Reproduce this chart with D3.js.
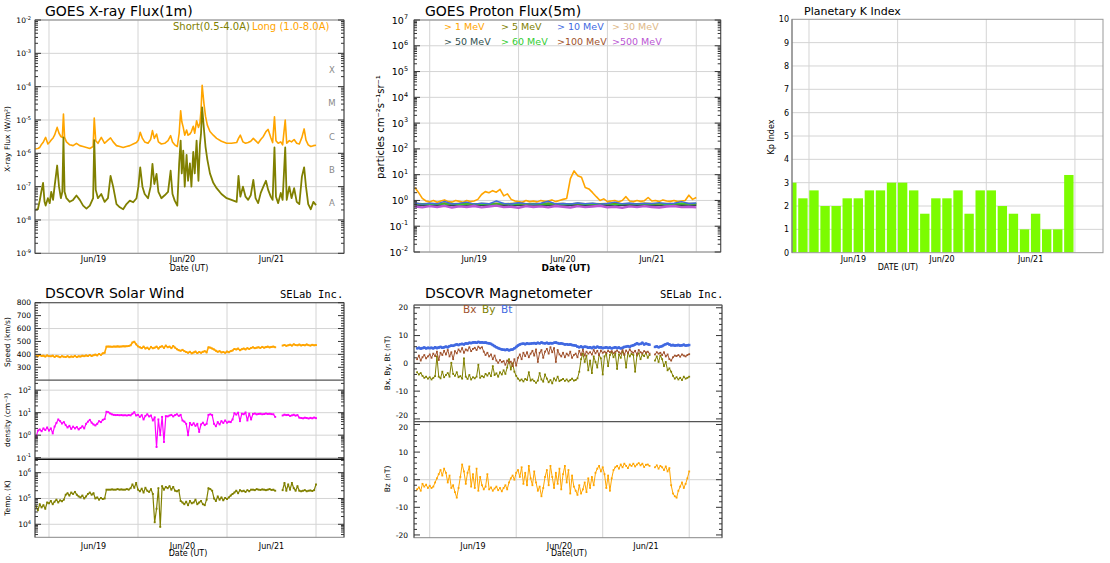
<!DOCTYPE html>
<html><head><meta charset="utf-8">
<script src="https://cdn.jsdelivr.net/npm/d3@7"></script>
<style>body{margin:0;background:#fff} svg{display:block;font-family:"DejaVu Sans",sans-serif}</style>
</head><body><svg id="chart" width="1110" height="563"></svg>
<script>
// ---------- DATA (hours relative to Jun 19 00:00 UT) ----------
const dayLabels = ["Jun/19","Jun/20","Jun/21"];
const dayLabelHours = [12,36,60];
const dayGridHours = [0,24,48,72];

const xrayHours = [-3.9,-3.0,-2.5,-2.1,-1.6,-1.2,-0.9,-0.3,0.2,0.6,1.1,1.5,2.2,2.7,3.2,3.6,3.9,4.2,4.7,5.6,6.5,7.4,8.3,9.2,10.1,11.0,11.9,12.2,12.6,13.2,14.1,15.0,15.9,16.6,17.3,18.2,19.1,20.0,20.9,21.8,22.7,23.6,24.1,24.6,25.2,25.8,26.7,27.4,27.9,28.4,29.0,29.5,30.3,31.2,32.1,32.8,33.3,33.9,34.6,35.1,35.5,35.8,36.2,36.6,37.1,37.5,38.0,38.4,38.9,39.3,39.8,40.3,40.7,41.0,41.3,41.8,42.2,42.7,43.4,44.3,45.2,46.5,47.9,49.2,50.6,51.1,51.6,52.3,53.0,53.7,54.4,55.1,55.7,56.4,57.1,57.8,58.5,59.1,59.8,60.3,60.8,61.2,61.8,62.5,63.0,63.7,64.1,64.8,65.4,66.1,66.8,67.5,68.2,68.8,69.3,69.9,70.6,71.3,72.0];
const xrayLong = [1.35e-6,1.4e-6,1.5e-6,1.8e-6,2.1e-6,2.6e-6,3.0e-6,1.9e-6,2.2e-6,2.5e-6,2.9e-6,3.5e-6,6.0e-6,4.0e-6,3.2e-6,3.0e-6,1.5e-5,3.0e-6,2.2e-6,1.8e-6,1.7e-6,2.0e-6,1.7e-6,1.6e-6,1.5e-6,1.4e-6,1.6e-6,1.15e-5,2.4e-6,2.0e-6,3.0e-6,2.0e-6,2.5e-6,2.9e-6,2.2e-6,1.7e-6,1.6e-6,1.5e-6,1.6e-6,1.7e-6,1.9e-6,2.1e-6,2.5e-6,4.3e-6,2.8e-6,2.2e-6,2.0e-6,2.6e-6,4.8e-6,2.8e-6,3.8e-6,2.2e-6,1.9e-6,2.0e-6,2.4e-6,3.4e-6,2.2e-6,1.8e-6,1.6e-6,4.0e-6,1.9e-5,9e-6,6.0e-6,3.5e-6,5.0e-6,3.5e-6,3.8e-6,4.5e-6,6.5e-6,4.0e-6,9.5e-6,6.0e-6,8.0e-6,2.0e-5,1.1e-4,3.0e-5,1.3e-5,7.0e-6,4.5e-6,3.5e-6,2.8e-6,2.3e-6,2.0e-6,2.0e-6,2.1e-6,2.8e-6,3.5e-6,2.2e-6,2.0e-6,2.1e-6,2.3e-6,2.8e-6,2.4e-6,2.0e-6,2.6e-6,3.2e-6,4.5e-6,5.2e-6,3.0e-6,2.1e-6,1.25e-5,2.4e-6,2.0e-6,2.2e-6,1.8e-6,1.0e-5,2.0e-6,2.4e-6,2.2e-6,2.6e-6,2.0e-6,1.9e-6,3.0e-6,5.4e-6,2.5e-6,1.8e-6,1.6e-6,1.7e-6,1.75e-6];
const xrayShort = [2.0e-8,2.1e-8,3.8e-8,6.8e-8,1.3e-7,3.5e-8,2.7e-8,4.5e-8,3.2e-8,7e-8,4e-8,1e-7,4.3e-7,1.0e-7,4.5e-8,7e-8,3e-6,7e-8,4.5e-8,3.5e-8,4e-8,5.4e-8,4e-8,2.7e-8,2.2e-8,2.7e-8,4.5e-8,2.5e-6,8e-8,4.5e-8,6e-8,3.5e-8,4.5e-8,2.1e-7,1e-7,3e-8,2.4e-8,2.1e-8,3e-8,3.8e-8,3.4e-8,4.5e-8,1e-7,3.8e-7,1e-7,6e-8,4.5e-8,1e-7,4.8e-7,1.2e-7,2.4e-7,7e-8,4.5e-8,5.5e-8,7e-8,3e-7,6e-8,3.8e-8,2.7e-8,5e-7,2.4e-6,2.5e-7,1.2e-6,1e-7,9e-7,1.5e-7,5e-7,1e-7,1.1e-6,2.5e-7,2.4e-6,1.5e-7,1.8e-6,4e-6,2.4e-5,5e-6,1.6e-6,6.5e-7,2.5e-7,1.3e-7,9e-8,6e-8,4.5e-8,4e-8,3.5e-8,2.1e-7,5e-8,1e-7,5e-8,4e-8,5.5e-8,1.6e-7,4.5e-8,3.2e-8,6.5e-8,1e-7,1.5e-7,8e-8,5e-8,4e-8,1.5e-6,5e-8,3.2e-8,6.5e-8,4e-8,1.5e-6,4e-8,1e-7,4.5e-8,9e-8,3.5e-8,3e-8,2e-7,3.8e-7,1e-7,3e-8,2.1e-8,3.5e-8,2.8e-8];
const xrayClasses = ["X","M","C","B","A"];
const xrayClassLevels = [3.16e-4,3.16e-5,3.16e-6,3.16e-7,3.16e-8];

const protonStart = -4, protonStep = 1, protonStepFlat = 2;
const proton1 = [3.2,2.0,1.2,0.95, 0.88,1.0,0.85,0.95,1.05,0.9,0.86,1.0, 0.92,0.85,1.0,0.9,0.95,1.1,1.7,2.2, 2.0,2.4,2.1,2.7,1.5,1.8,1.1,0.95, 0.9,0.85,1.0,0.9,0.95,0.88,1.0,0.92, 0.95,1.05,0.9,1.0,1.1,1.2,7.0,14.0, 9.0,8.0,3.2,2.8,2.0,1.4,1.0,1.15, 0.9,0.95,1.0,0.88,1.0,1.4,0.95,0.9, 1.0,0.92,0.98,1.3,0.95,1.0,0.9,1.05, 0.95,0.92,1.0,0.9,0.95,1.0,1.6,1.1,1.3];
const proton5 = [0.78,0.74,0.77,0.75,0.8,0.74,0.76,0.78,0.73,0.77,0.75,0.79,0.74,0.76,0.78,0.75,0.77,0.74,0.8,0.75,0.76,0.73,0.78,0.75,0.77,0.74,0.76,0.79,0.75,0.77,0.74,0.78,0.76,0.75,0.77,0.74,0.79,0.76,0.77];
const proton30 = [0.71,0.69,0.72,0.7,0.71,0.68,0.72,0.7,0.69,0.71,0.7,0.72,0.69,0.71,0.7,0.68,0.72,0.7,0.71,0.69,0.72,0.7,0.71,0.69,0.7,0.72,0.69,0.71,0.7,0.72,0.69,0.71,0.7,0.68,0.72,0.7,0.71,0.69,0.7];
const proton50 = [0.66,0.64,0.67,0.65,0.66,0.63,0.67,0.65,0.64,0.66,0.65,0.67,0.64,0.66,0.65,0.63,0.67,0.65,0.66,0.64,0.67,0.65,0.66,0.64,0.65,0.67,0.64,0.66,0.65,0.67,0.64,0.66,0.65,0.63,0.67,0.65,0.66,0.64,0.65];
const proton100 = [0.68,0.66,0.69,0.67,0.68,0.66,0.69,0.67,0.66,0.68,0.67,0.69,0.66,0.68,0.67,0.66,0.69,0.67,0.68,0.66,0.69,0.67,0.68,0.66,0.67,0.69,0.66,0.68,0.67,0.69,0.66,0.68,0.67,0.66,0.69,0.67,0.68,0.66,0.67];
const proton60 = [0.72,0.75,0.7,0.74,0.71,0.76,0.7,0.73,0.75,0.71,0.74,0.72,0.76,0.7,0.73,0.75,0.71,0.74,0.72,0.75,0.7,0.73,0.76,0.71,0.74,0.72,0.75,0.7,0.73,0.76,0.71,0.74,0.72,0.75,0.7,0.73,0.76,0.72,0.74];
const proton10 = [0.8,0.72,0.78,0.74,0.92,0.73,0.77,0.86,0.72,0.79,0.74,0.95,0.76,0.73,0.81,0.75,0.72,0.78,0.93,0.74,0.76,0.73,0.8,0.74,0.79,0.72,0.76,0.86,0.74,0.78,0.73,0.77,0.75,0.82,0.74,0.78,0.9,0.76,0.8];
const proton500 = [0.58,0.54,0.6,0.55,0.62,0.53,0.59,0.56,0.61,0.54,0.58,0.63,0.55,0.57,0.52,0.6,0.56,0.59,0.54,0.61,0.57,0.53,0.6,0.55,0.58,0.62,0.54,0.57,0.52,0.59,0.55,0.6,0.56,0.53,0.58,0.61,0.55,0.57,0.54];
const protonLabels = ["> 1 MeV","> 5 MeV","> 10 MeV","> 30 MeV","> 50 MeV","> 60 MeV",">100 MeV",">500 MeV"];

const kpStart = -6, kpStep = 3;
const kpValues = [3.0,2.33,2.67,2.0,2.0,2.33,2.33,2.67,2.67,3.0,3.0,2.67,1.67,2.33,2.33,2.67,1.67,2.67,2.67,2.0,1.67,1.0,1.67,1.0,1.0,3.33];

const swStart = -3.5, swStep = 0.5;
const windSpeed = [392,385,395,388,390,383,392,386, 385,390,380,388,384,378,386,382, 380,386,378,384,381,388,379,385, 383,390,386,392,388,395,387,393, 398,392,403,396,408,412,460,461, 460,459,461,460,462,460,461,463, 462,463,465,470,492,498,478,462, 455,448,460,445,452,440,458,447, 452,460,445,458,463,450,468,455, 460,448,465,452,440,432,428,435, 425,418,412,420,408,415,422,410, 418,412,420,425,415,455,452,445, 438,428,420,425,415,418,412,422, 416,425,430,442,438,445,432,440, 445,438,448,442,450,455,448,452, 455,450,458,452,456,460,454,458, 460,455,null,null,null,468,472,466, 470,475,468,478,472,470,476,469, 473,470,477,471,468,474,470,472];
const windDensity = [0.8,1.6,1.8,1.5,2.0,1.7,2.2,1.6, 2.0,1.2,2.4,3.5,5.0,4.2,3.3,3.8, 2.8,2.2,2.6,1.9,2.4,2.0,2.3,1.8, 2.1,2.5,2.0,3.2,4.0,4.8,3.6,3.0, 2.7,3.2,4.2,3.8,4.8,5.2,11,10.5, 9.2,8.4,8.0,7.8,7.9,7.7,7.8,7.6, 7.7,7.5,7.8,7.6,9.0,10.5,7.5,8.0, 6.5,7.8,5.0,7.2,8.5,6.8,7.5,4.5, 6.2,0.3,5.0,1.0,6.5,0.5,7.0,6.8, 7.5,8.0,6.8,7.8,8.5,7.2,8.0,4.5, 4.0,3.2,1.0,3.5,2.8,3.4,2.6,3.2, 1.4,3.0,3.6,2.8,3.2,8.0,8.5,7.8, 3.2,2.5,3.8,3.0,4.2,3.5,4.5,3.6, 4.0,3.8,5.0,9.5,8.2,10.0,4.2,9.0, 8.5,10.2,4.5,9.0,5.0,8.8,9.2,8.4, 8.8,9.0,8.5,8.7,9.2,8.8,9.0,8.6, 8.5,6.5,null,null,null,7.5,8.2,7.8, 8.0,7.2,7.6,8.1,7.4,7.8,6.0,5.8, 5.6,6.0,5.8,5.5,5.9,5.6,6.1,5.7];
const windTemp = [5e4,3.5e4,6e4,4.5e4,5.5e4,4e4,7e4,6.5e4, 8e4,6e4,7.5e4,9e4,7e4,8.5e4,7.8e4,9e4, 1.4e5,1.6e5,1.3e5,1.7e5,1.5e5,1.8e5,1.4e5,1.2e5, 1.1e5,1.3e5,1e5,1.2e5,1.5e5,1.7e5,1.4e5,1.6e5, 1e5,1.1e5,9e4,1.05e5,9.5e4,1e5,2.2e5,2.2e5, 2.2e5,2.25e5,2.2e5,2.2e5,2.3e5,2.2e5,2.25e5,2.2e5, 2.2e5,2.3e5,2.2e5,2.5e5,3.5e5,2.6e5,4e5,2.2e5, 1.9e5,2.4e5,1.7e5,2.6e5,2e5,1.8e5,2.3e5,1.5e5, 1.2e4,4e4,2.5e5,8e3,3e5,2.2e5,2.8e5,2.5e5, 3e5,2.2e5,2.8e5,2e5,1.9e5,2.1e5,8e4,7e4, 6e4,7.5e4,5.5e4,8e4,6.5e4,7e4,9e4,6e4, 7e4,8e4,6e4,5.5e4,9e4,2.5e5,2.3e5,2e5, 1e5,8e4,1.2e5,9e4,1.1e5,8.5e4,1.05e5,9.5e4, 1.1e5,1.3e5,1.5e5,1.7e5,2e5,1.6e5,2.1e5,1.9e5, 2e5,1.8e5,2.1e5,1.9e5,2.2e5,2.2e5,2.1e5,2.3e5, 2.2e5,2.15e5,2.25e5,2.2e5,2.1e5,2.2e5,2.3e5,2.15e5, 2.2e5,2e5,null,null,null,2.1e5,4e5,2e5, 3.5e5,2.2e5,4e5,2.5e5,2e5,3e5,2e5,1.9e5, 2e5,2.1e5,1.9e5,2e5,2.05e5,1.95e5,2.1e5,3.5e5];

const magBt = [5.4,5.6,5.3,5.5,5.7,5.4,5.6,5.5, 5.6,5.4,5.8,5.5,5.7,5.9,5.6,5.8, 6.0,5.8,6.2,6.4,6.3,6.6,6.8,6.6, 6.9,7.0,6.8,7.2,7.1,7.4,7.3,7.5, 7.6,7.4,7.7,7.5,7.6,7.4,7.5,7.3, 7.2,7.0,6.6,6.2,5.8,5.5,5.2,5.0, 4.9,4.8,5.0,4.7,4.9,5.0,5.4,5.9, 6.4,6.8,7.0,7.1,6.9,7.2,7.0,7.1, 7.2,7.3,7.1,7.4,7.2,7.5,7.3,7.2, 7.4,7.1,7.3,7.2,7.4,7.5,7.3,7.1, 7.2,7.0,6.8,6.9,6.7,6.8,6.6,6.5, 6.4,6.0,5.8,6.1,5.7,6.0,5.9,5.6, 5.8,5.5,5.9,5.6,6.0,5.7,5.8,5.5, 5.6,5.8,5.5,5.7,5.4,5.6,5.8,5.5, 5.7,5.4,5.6,5.9,6.0,6.2,5.9,6.3, 6.5,6.8,7.2,6.9,7.0,7.4,6.8,7.1, 6.9,6.7,null,null,5.9,6.1,5.8,6.0, 6.2,6.6,6.9,7.1,6.8,6.5,6.6,6.4, 6.5,6.6,6.4,6.5,6.7,6.4,6.5,6.6];
const magBx = [1.5,2.8,1.0,2.2,3.0,1.8,2.5,3.2, 2.0,3.5,2.6,4.2,1.2,3.8,3.0,4.5, 3.2,4.8,2.5,4.0,1.5,4.4,3.6,5.0, 4.2,5.5,3.8,5.0,4.6,5.8,4.4,5.2, 5.6,4.8,6.0,5.4,5.8,4.2,3.0,3.8, 2.5,3.2,1.5,2.8,1.0,0.2,1.2,0.5, 0.8,-0.5,1.0,0.2,0.6,-1.0,1.5,-0.8, 2.0,3.2,1.5,3.8,2.6,4.0,2.2,3.5, 4.5,2.8,5.0,0.5,3.8,4.8,2.0,4.2, 5.2,3.5,5.8,4.0,5.5,0.5,4.8,3.2, 2.5,3.8,2.2,3.5,2.8,4.2,2.0,3.0, 3.5,2.2,4.5,3.0,5.0,2.8,4.2,3.5, 4.0,3.2,4.8,3.6,4.5,3.0,4.6,3.8, 4.2,3.8,4.5,4.0,4.4,3.6,4.2,4.6, 4.0,3.5,4.8,3.2,4.6,3.8,5.0,4.2, 3.8,4.5,3.2,4.8,4.0,3.6,4.4,3.9, 4.2,3.5,null,null,3.2,4.0,3.5,3.8, 3.0,4.0,2.5,3.2,1.5,1.0,2.2,2.8, 2.6,3.0,2.4,3.2,2.8,2.5,3.0,3.3];
const magBy = [-3.2,-4.0,-3.5,-4.5,-5.2,-4.8,-5.5,-5.0, -5.8,-5.2,-4.6,2.5,-4.8,-5.4,-3.0,-5.0, -4.2,-3.5,-4.8,0.2,-3.8,-4.5,-3.2,-5.0, -4.6,-5.5,1.8,-4.8,-5.6,-4.2,-5.8,-5.0, -5.4,-4.8,-0.5,-5.2,-4.6,-5.0,-3.8,-4.4, -3.5,-4.6,-1.0,-4.2,-3.6,-4.8,-3.2,-4.0, -2.5,-3.8,-1.5,1.5,-2.2,0.0,-3.0,-4.5, -5.5,-6.2,-5.8,-6.5,-5.6,-6.0,-3.2,-6.2, -5.8,-6.4,-7.0,-6.2,-3.5,-5.8,-6.6,-4.0, -5.5,-6.8,-6.0,-7.2,-5.4,-6.2,-4.8,-6.4, -6.0,-5.6,-6.3,-5.8,-6.5,-6.0,-5.5,-6.2, -6.0,-5.4,-3.0,1.5,3.5,0.5,2.8,-2.5, 1.0,-3.5,2.5,0.5,-1.5,3.0,1.8,-4.0, 2.5,3.5,-1.0,3.0,4.0,2.2,3.6,-2.0, 3.2,2.0,4.2,3.0,-1.5,3.8,2.5,3.4, 3.0,-3.0,2.8,3.6,1.5,3.2,2.6,3.8, 2.0,3.0,null,null,1.0,2.5,0.5,2.8, 1.5,-1.0,0.5,-2.5,-1.8,-3.0,-4.5,-5.5, -5.0,-5.8,-5.2,-6.0,-4.8,-5.5,-5.2,-4.8];
const magBz = [-3.5,-2.8,-4.0,-1.5,-2.5,-1.8,-3.0,-2.2, -3.0,-2.5,-1.0,0.5,2.0,3.5,1.5,4.0, 2.5,-1.0,1.5,-3.0,-2.0,-4.5,-6.5,-3.0, 1.0,5.5,3.0,-1.5,2.5,4.8,-2.5,2.0, -3.0,4.0,-4.0,1.0,-2.0,-3.5,-2.5,2.0, -3.5,-2.8,-4.0,-3.2,-2.5,-3.8,-3.0,-4.2, -3.0,-2.0,-3.5,-1.0,0.5,1.5,0.0,2.5, 3.5,1.0,4.5,-1.5,2.5,-2.0,5.0,0.5, -2.0,3.0,-1.0,-4.0,-2.5,-6.0,-3.0,1.0, 3.5,-2.0,5.0,1.0,-3.0,2.5,-1.5,4.0, -3.5,2.0,5.0,-1.0,3.5,-5.0,1.5,-2.5, -4.0,-5.5,-2.0,-5.0,-3.5,-1.0,-4.5,0.5, -3.0,1.0,-2.0,2.5,4.0,5.0,3.0,4.5, 2.0,-3.0,1.5,-4.0,0.5,3.5,4.5,5.0, 4.0,5.5,4.5,5.8,5.0,4.2,5.5,5.0, 5.8,4.8,5.5,6.0,5.2,5.8,4.6,5.4, 5.5,5.0,null,null,4.5,5.2,4.0,5.0, 4.5,3.5,4.8,3.0,4.2,-2.0,-5.0,-6.0, -6.5,-4.0,-2.5,-1.0,-3.0,-1.5,0.5,3.0];

// ---------- HELPERS ----------
const svg = d3.select("#chart");
const defs = svg.append("defs");
const GRID = "#d4d4d4", FRAME = "#555", TICK = "#333";

function clip(id, x0, y0, x1, y1) {
  defs.append("clipPath").attr("id", id).append("rect")
    .attr("x", x0).attr("y", y0).attr("width", x1 - x0).attr("height", y1 - y0);
}
function txt(g, x, y, s, size, o = {}) {
  const t = g.append("text").attr("x", x).attr("y", y).attr("font-size", size).text(s);
  if (o.anchor) t.attr("text-anchor", o.anchor);
  if (o.fill) t.attr("fill", o.fill);
  if (o.weight) t.attr("font-weight", o.weight);
  if (o.family) t.attr("font-family", o.family);
  return t;
}
function vtxt(g, x, y, s, size) {
  return g.append("text").attr("transform", `translate(${x},${y}) rotate(-90)`)
    .attr("text-anchor", "middle").attr("font-size", size).text(s);
}
function powLabel(g, x, y, exp, size) {
  const t = g.append("text").attr("x", x).attr("y", y).attr("text-anchor", "end").attr("font-size", size);
  t.append("tspan").text("10");
  t.append("tspan").attr("dy", -size * 0.45).attr("font-size", size * 0.68).text(exp);
}
function hline(g, x0, x1, y, color, w = 1) {
  g.append("line").attr("x1", x0).attr("x2", x1).attr("y1", y).attr("y2", y).attr("stroke", color).attr("stroke-width", w);
}
function vline(g, x, y0, y1, color, w = 1) {
  g.append("line").attr("x1", x).attr("x2", x).attr("y1", y0).attr("y2", y1).attr("stroke", color).attr("stroke-width", w);
}
function dayGrid(g, x, y0, y1) { dayGridHours.forEach(h => vline(g, x(h), y0, y1, GRID)); }
function ticksLR(g, y, vals, x0, x1, len) {
  vals.forEach(v => { const yy = y(v); hline(g, x0, x0 + len, yy, TICK); hline(g, x1 - len, x1, yy, TICK); });
}
function logVals(y, mult) {
  const [a, b] = y.domain(); const out = [];
  for (let d = Math.floor(Math.log10(a)); d <= Math.ceil(Math.log10(b)); d++)
    mult.forEach(m => { const v = m * Math.pow(10, d); if (v >= a * 0.999 && v <= b * 1.001) out.push(v); });
  return out;
}
function logTicks(g, y, x0, x1) {
  ticksLR(g, y, logVals(y, [1]), x0, x1, 6);
  ticksLR(g, y, logVals(y, [2, 3, 4, 5, 6, 7, 8, 9]), x0, x1, 3);
}
function series(start, step, vals) { return vals.map((v, i) => [start + i * step, v]); }
function drawLine(g, x, y, pts, color, w) {
  g.append("path").datum(pts).attr("fill", "none").attr("stroke", color).attr("stroke-width", w)
    .attr("stroke-linejoin", "round")
    .attr("d", d3.line().defined(d => d[1] != null).x(d => x(d[0])).y(d => y(d[1])));
}
function drawDots(g, x, y, pts, color, s = 1.9, lw = 1) {
  drawLine(g, x, y, pts, color, lw);
  g.selectAll(null).data(pts.filter(d => d[1] != null)).join("rect")
    .attr("x", d => x(d[0]) - s / 2).attr("y", d => y(d[1]) - s / 2)
    .attr("width", s).attr("height", s).attr("fill", color);
}
function dateAxis(g, x, yLab, title, tx, ty, tsize, tweight) {
  dayLabels.forEach((l, i) => txt(g, x(dayLabelHours[i]), yLab, l, 8, { anchor: "middle" }));
  txt(g, tx, ty, title, tsize, { anchor: "middle", weight: tweight });
}

// ---------- PANEL 1 : GOES X-ray ----------
{
  const g = svg.append("g");
  const L = 35, R = 344, T = 20, B = 253.3;
  const x = d3.scaleLinear().domain([-3.775, 79.55]).range([L, R]);
  const y = d3.scaleLog().domain([1e-9, 1e-2]).range([B, T]);
  clip("cx", L, T, R, B);
  logVals(y, [1]).forEach(v => hline(g, L, R, y(v), GRID));
  dayGrid(g, x, T, B);
  const dg = g.append("g").attr("clip-path", "url(#cx)");
  drawLine(dg, x, y, xrayHours.map((h, i) => [h, xrayLong[i]]), "#FFA500", 1.6);
  drawLine(dg, x, y, xrayHours.map((h, i) => [h, xrayShort[i]]), "#808000", 1.8);
  g.append("rect").attr("x", L).attr("y", T).attr("width", R - L).attr("height", B - T).attr("fill", "none").attr("stroke", "#888");
  vline(g, L, T, B, FRAME); vline(g, R, T, B, FRAME);
  logTicks(g, y, L, R);
  logVals(y, [1]).forEach(v => powLabel(g, 31, y(v) + 3, String(Math.round(Math.log10(v))), 7.5));
  xrayClasses.forEach((c, i) => txt(g, 332, y(xrayClassLevels[i]) + 3, c, 8.5, { anchor: "middle", fill: "#888" }));
  txt(g, 45, 16, "GOES X-ray Flux(1m)", 14);
  txt(g, 173, 30, "Short(0.5-4.0A)", 10, { fill: "#808000" });
  txt(g, 252, 30, "Long (1.0-8.0A)", 10, { fill: "#FFA500" });
  vtxt(g, 10, 139, "X-ray Flux (W/m²)", 7.5);
  dateAxis(g, x, 262, "Date (UT)", 189, 270.5, 8);
}

// ---------- PANEL 2 : GOES Proton ----------
{
  const g = svg.append("g");
  const L = 414, R = 720.7, T = 20, B = 252;
  const x = d3.scaleLinear().domain([-4.245, 78.6]).range([L, R]);
  const y = d3.scaleLog().domain([1e-2, 1e7]).range([B, T]);
  clip("cp", L, T, R, B);
  logVals(y, [1]).forEach(v => hline(g, L, R, y(v), GRID));
  dayGrid(g, x, T, B);
  const dg = g.append("g").attr("clip-path", "url(#cp)");
  const flat = [[proton30, "#DEB887"], [proton5, "#808000"], [proton100, "#A0522D"], [proton50, "#2F4F4F"], [proton60, "#32CD32"], [proton10, "#4169E1"]];
  drawLine(dg, x, y, series(protonStart, protonStep, proton1), "#FFA500", 1.6);
  flat.forEach(([vals, c]) => drawLine(dg, x, y, series(protonStart, protonStepFlat, vals), c, 1.4));
  drawLine(dg, x, y, series(protonStart, protonStepFlat, proton500), "#BA55D3", 2.4);
  g.append("rect").attr("x", L).attr("y", T).attr("width", R - L).attr("height", B - T).attr("fill", "none").attr("stroke", "#888");
  vline(g, L, T, B, FRAME); vline(g, R, T, B, FRAME);
  logTicks(g, y, L, R);
  logVals(y, [1]).forEach(v => powLabel(g, 408, y(v) + 3.5, String(Math.round(Math.log10(v))), 9.5));
  txt(g, 425, 16, "GOES Proton Flux(5m)", 14);
  const legCols = ["#FFA500", "#808000", "#4169E1", "#DEB887", "#2F4F4F", "#32CD32", "#A0522D", "#BA55D3"];
  const legX = [444, 501, 557, 612];
  protonLabels.forEach((l, i) => txt(g, legX[i % 4], i < 4 ? 29.5 : 44.5, l, 9.5, { fill: legCols[i] }));
  vtxt(g, 384, 127, "particles cm⁻²s⁻¹sr⁻¹", 10);
  dateAxis(g, x, 262, "Date (UT)", 566, 271, 9, "bold");
}

// ---------- PANEL 3 : Kp ----------
{
  const g = svg.append("g");
  const L = 792, R = 1103, T = 19.3, B = 252.7;
  const x = d3.scaleLinear().domain([-4.6, 79.6]).range([L, R]);
  const y = d3.scaleLinear().domain([0, 10]).range([B, T]);
  clip("ck", L, T, R, B);
  d3.range(1, 10).forEach(v => hline(g, L, R, y(v), GRID));
  dayGrid(g, x, T, B);
  const dg = g.append("g").attr("clip-path", "url(#ck)");
  dg.selectAll(null).data(kpValues).join("rect")
    .attr("x", (d, i) => x(kpStart + i * kpStep) + 0.3)
    .attr("width", (d, i) => x(kpStart + (i + 1) * kpStep) - x(kpStart + i * kpStep) - 1.7)
    .attr("y", d => y(d)).attr("height", d => y(0) - y(d)).attr("fill", "#7CFC00");
  g.append("rect").attr("x", L).attr("y", T).attr("width", R - L).attr("height", B - T).attr("fill", "none").attr("stroke", "#999");
  vline(g, L, T, B, "#777");
  d3.range(0, 11).forEach(v => txt(g, 789, y(v) + 3, String(v), 8, { anchor: "end" }));
  txt(g, 804, 15, "Planetary K Index", 11);
  vtxt(g, 774, 137, "Kp Index", 8);
  dateAxis(g, x, 261.5, "DATE (UT)", 898, 270, 8);
}

// ---------- PANEL 4 : DSCOVR Solar Wind ----------
{
  const g = svg.append("g");
  const L = 35, R = 344, T = 302.7, M1 = 380.2, M2 = 459.3, B = 537.3;
  const x = d3.scaleLinear().domain([-3.775, 79.55]).range([L, R]);
  const yS = d3.scaleLinear().domain([200, 800]).range([M1, T]);
  const yD = d3.scaleLog().domain([0.0849, 277]).range([M2, M1]);
  const yT = d3.scaleLog().domain([3130, 3.3e6]).range([B, M2]);
  clip("cs1", L, T, R, M1); clip("cs2", L, M1, R, M2); clip("cs3", L, M2, R, B);
  [400, 600].forEach(v => hline(g, L, R, yS(v), GRID));
  logVals(yD, [1]).forEach(v => hline(g, L, R, yD(v), GRID));
  logVals(yT, [1]).forEach(v => hline(g, L, R, yT(v), GRID));
  dayGrid(g, x, T, B);
  drawDots(g.append("g").attr("clip-path", "url(#cs1)"), x, yS, series(swStart, swStep, windSpeed), "#FFA500", 1.9, 1.6);
  drawDots(g.append("g").attr("clip-path", "url(#cs2)"), x, yD, series(swStart, swStep, windDensity), "#FF00FF", 1.9, 1.2);
  drawDots(g.append("g").attr("clip-path", "url(#cs3)"), x, yT, series(swStart, swStep, windTemp), "#808000", 1.9, 1.2);
  g.append("rect").attr("x", L).attr("y", T).attr("width", R - L).attr("height", B - T).attr("fill", "none").attr("stroke", "#888");
  vline(g, L, T, B, FRAME); vline(g, R, T, B, FRAME); hline(g, L, R, T, FRAME);
  hline(g, L, R, M1, "#555", 1.2); hline(g, L, R, M2, "#111", 1.6);
  ticksLR(g, yS, d3.range(300, 801, 100), L, R, 6);
  ticksLR(g, yS, d3.range(220, 800, 20).filter(v => v % 100 !== 0), L, R, 3);
  logTicks(g, yD, L, R); logTicks(g, yT, L, R);
  d3.range(300, 801, 100).forEach(v => txt(g, 31, yS(v) + 2.7, String(v), 7.5, { anchor: "end" }));
  logVals(yD, [1]).forEach(v => powLabel(g, 31, yD(v) + 3, String(Math.round(Math.log10(v))), 7.5));
  logVals(yT, [1]).forEach(v => powLabel(g, 31, yT(v) + 3, String(Math.round(Math.log10(v))), 7.5));
  txt(g, 45, 298, "DSCOVR Solar Wind", 14);
  txt(g, 280, 298, "SELab Inc.", 10.5, { family: "DejaVu Sans Mono" });
  vtxt(g, 10, 342, "Speed (km/s)", 7.5);
  vtxt(g, 10, 420, "density (cm⁻³)", 7.5);
  vtxt(g, 10, 498, "Temp. (K)", 7.5);
  dateAxis(g, x, 548.5, "Date (UT)", 188, 556, 8);
}

// ---------- PANEL 5 : DSCOVR Magnetometer ----------
{
  const g = svg.append("g");
  const L = 414, R = 722, T = 305, M = 421.7, B = 537.7;
  const x = d3.scaleLinear().domain([-4.36, 81.1]).range([L, R]);
  const yU = d3.scaleLinear().domain([-21, 21]).range([M, T]);
  const yL = d3.scaleLinear().domain([-21, 21]).range([B, M]);
  clip("cm1", L, T, R, M); clip("cm2", L, M, R, B);
  hline(g, L, R, yU(0), GRID); hline(g, L, R, yL(0), GRID);
  dayGrid(g, x, T, B);
  const ug = g.append("g").attr("clip-path", "url(#cm1)");
  drawDots(ug, x, yU, series(swStart, swStep, magBy), "#808000", 1.8, 1);
  drawDots(ug, x, yU, series(swStart, swStep, magBx), "#A0522D", 1.8, 1);
  drawDots(ug, x, yU, series(swStart, swStep, magBt), "#4169E1", 2.4, 2.4);
  drawDots(g.append("g").attr("clip-path", "url(#cm2)"), x, yL, series(swStart, swStep, magBz), "#FFA500", 1.8, 1);
  g.append("rect").attr("x", L).attr("y", T).attr("width", R - L).attr("height", B - T).attr("fill", "none").attr("stroke", "#888");
  vline(g, L, T, B, FRAME); vline(g, R, T, B, FRAME); hline(g, L, R, T, FRAME);
  hline(g, L, R, M, "#555", 1.2);
  const maj = [-20, -10, 0, 10, 20], mnr = d3.range(-20, 21, 2).filter(v => v % 10 !== 0);
  [yU, yL].forEach(y => { ticksLR(g, y, maj, L, R, 6); ticksLR(g, y, mnr, L, R, 3); });
  const labShift = (y, v) => (y === yU && v === -20) ? -0.8 : (y === yL && v === 20) ? 5.5 : 2.7;
  [yU, yL].forEach(y => maj.forEach(v => txt(g, 408, y(v) + labShift(y, v), String(v), 7.5, { anchor: "end" })));
  txt(g, 425, 298, "DSCOVR Magnetometer", 14);
  txt(g, 660, 298, "SELab Inc.", 10.5, { family: "DejaVu Sans Mono" });
  txt(g, 463, 313, "Bx", 10.5, { fill: "#A0522D" });
  txt(g, 482, 313, "By", 10.5, { fill: "#808000" });
  txt(g, 501, 313, "Bt", 10.5, { fill: "#4169E1" });
  vtxt(g, 390, 363, "Bx, By, Bt (nT)", 7.5);
  vtxt(g, 390, 479, "Bz (nT)", 7.5);
  dateAxis(g, x, 548.5, "Date(UT)", 569, 556, 8);
}
</script></body></html>
